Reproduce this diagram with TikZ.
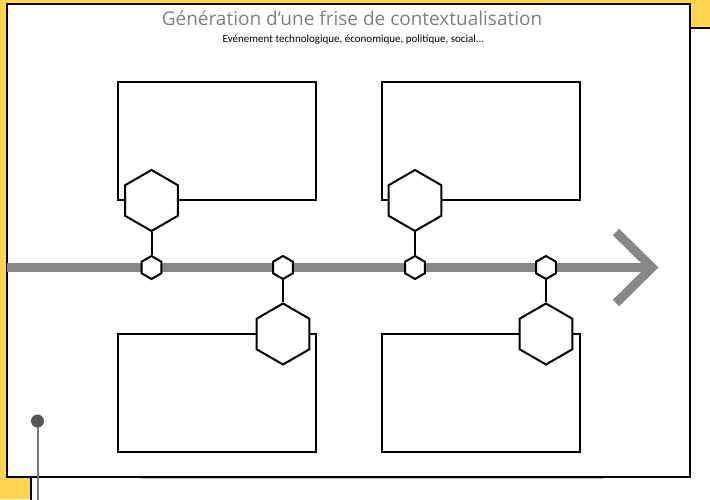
\documentclass[tikz,border=0pt]{standalone}
\usepackage{fontspec}
\newfontfamily\titlefont{Open Sans}
\newfontfamily\subfont{Carlito}
\usetikzlibrary{shapes.geometric}
\definecolor{bgyellow}{RGB}{255,213,79}
\definecolor{linegray}{RGB}{135,135,135}
\definecolor{titlegray}{RGB}{128,128,128}
\definecolor{pindark}{RGB}{85,85,85}
\definecolor{pinline}{RGB}{120,120,120}
\tikzset{
  eventbox/.style={draw=black, line width=2pt, fill=white, minimum width=198pt, minimum height=118pt, inner sep=0pt},
  bighex/.style={regular polygon, regular polygon sides=6, shape border rotate=30, draw=black, line width=2pt, fill=white, minimum size=61pt, inner sep=0pt},
  smallhex/.style={regular polygon, regular polygon sides=6, shape border rotate=30, draw=black, line width=2pt, fill=white, minimum size=23pt, inner sep=0pt},
  stem/.style={draw=black, line width=2pt},
  timeline/.style={draw=linegray, line width=9pt},
}
\begin{document}
\begin{tikzpicture}[x=1pt,y=-1pt]
\useasboundingbox (0,0) rectangle (710,499);
% background
\fill[bgyellow] (0,0) rectangle (710,499);
% back sheet
\draw[line width=2pt, fill=white] (31,28) rectangle (725,515);
% main sheet
\draw[line width=2pt, fill=white] (7,3.5) rectangle (689.5,477);
\draw[line width=1pt, draw=black!30] (142,478.8) -- (603,478.8);
% pin
\draw[draw=pinline, line width=2pt] (37.5,421) -- (37.5,505);
\fill[pindark] (37.5,421) circle (6.5pt);
% titles
\node[font=\titlefont\fontsize{19}{22}\selectfont, text=titlegray] (title) at (352,18) {Génération d’une frise de contextualisation};
\node[font=\subfont\fontsize{11}{13}\selectfont, text=black] (subtitle) at (353.5,39.5) {Evénement technologique, économique, politique, social...};
% boxes
\node[eventbox] (box1) at (217,141) {};
\node[eventbox] (box2) at (480.5,141) {};
\node[eventbox] (box3) at (217,392.5) {};
\node[eventbox] (box4) at (480.5,392.5) {};
% timeline
\coordinate (tstart) at (7,267.5);
\coordinate (tend) at (650,267.5);
\coordinate (tup) at (616,232);
\coordinate (tdown) at (616,303);
\coordinate (ttip) at (652,267.5);
\draw[timeline] (tstart) -- (tend);
\draw[timeline, miter limit=10] (tup) -- (ttip) -- (tdown);
% hexagons
\node[smallhex] (s1) at (151.5,267.5) {};
\node[smallhex] (s2) at (283,267.5) {};
\node[smallhex] (s3) at (415,267.5) {};
\node[smallhex] (s4) at (546,267.5) {};
\node[bighex] (b1) at (151.5,200.5) {};
\node[bighex] (b2) at (283,334) {};
\node[bighex] (b3) at (415,200.5) {};
\node[bighex] (b4) at (546,334) {};
\draw[stem] (s1) -- (b1);
\draw[stem] (s2) -- (b2);
\draw[stem] (s3) -- (b3);
\draw[stem] (s4) -- (b4);
\end{tikzpicture}
\end{document}
